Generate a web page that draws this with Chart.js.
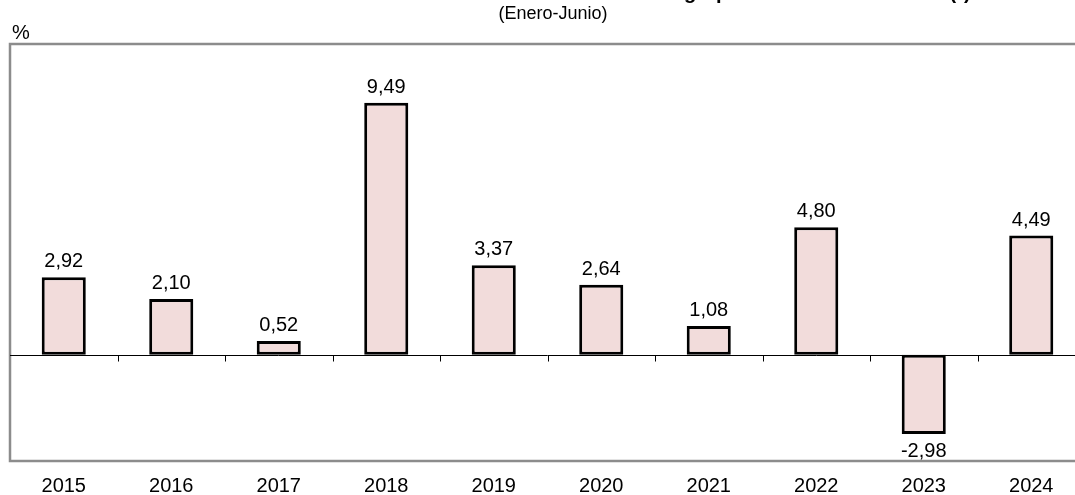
<!DOCTYPE html>
<html>
<head>
<meta charset="utf-8">
<script src="https://cdn.jsdelivr.net/npm/chart.js@4"></script>
<style>
  html, body { margin: 0; padding: 0; background: #fff; overflow: hidden; }
  #wrap { width: 1100px; height: 495px; }
</style>
</head>
<body>
<div id="wrap"><canvas id="c" width="1100" height="495"></canvas></div>
<script>
const categories = ['2015','2016','2017','2018','2019','2020','2021','2022','2023','2024'];
const values = [2.92, 2.10, 0.52, 9.49, 3.37, 2.64, 1.08, 4.80, -2.98, 4.49];
const titleText = 'Tasa de crecimiento del sector agropecuario en el semestre (*)';
const subtitleText = '(Enero-Junio)';
const unitText = '%';

const FONT = '"Liberation Sans", Arial, sans-serif';
const fmt = v => v.toFixed(2).replace('.', ',');

const decor = {
  id: 'decor',
  beforeDatasetsDraw(chart) {
    const { ctx, chartArea: a, scales: { x, y } } = chart;
    ctx.save();
    ctx.strokeStyle = '#8c8c8c';
    ctx.lineWidth = 2.5;
    ctx.strokeRect(a.left, a.top, a.right - a.left, a.bottom - a.top);
    const y0 = Math.round(y.getPixelForValue(0)) + 0.5;
    ctx.strokeStyle = '#000';
    ctx.lineWidth = 1;
    ctx.beginPath();
    ctx.moveTo(a.left, y0);
    ctx.lineTo(a.right, y0);
    for (let i = 1; i < categories.length; i++) {
      const px = Math.round(x.getPixelForValue(i - 0.5)) + 0.5;
      ctx.moveTo(px, y0);
      ctx.lineTo(px, y0 + 6);
    }
    ctx.stroke();
    ctx.restore();
  },
  afterDatasetsDraw(chart) {
    const { ctx } = chart;
    const meta = chart.getDatasetMeta(0);
    ctx.save();
    ctx.fillStyle = '#000';
    ctx.font = '20px ' + FONT;
    ctx.textAlign = 'center';
    meta.data.forEach((bar, i) => {
      const v = values[i];
      if (v >= 0) {
        ctx.textBaseline = 'alphabetic';
        ctx.fillText(fmt(v), bar.x, bar.y - 10);
      } else {
        ctx.textBaseline = 'alphabetic';
        ctx.fillText(fmt(v), bar.x, bar.y + 23);
      }
    });
    // unit label
    ctx.textAlign = 'left';
    ctx.textBaseline = 'alphabetic';
    ctx.fillText(unitText, 12, 39);
    // subtitle
    ctx.font = '18px ' + FONT;
    ctx.textAlign = 'center';
    ctx.fillText(subtitleText, 553, 19);
    // title (mostly above the visible area)
    ctx.font = 'bold 20px ' + FONT;
    ctx.textAlign = 'left';
    const pre = ctx.measureText('Tasa de crecimiento del sector a').width;
    const gw = ctx.measureText('g').width;
    ctx.fillText(titleText, 690 - pre - gw / 2, -1);
    ctx.restore();
  }
};

new Chart(document.getElementById('c'), {
  type: 'bar',
  data: {
    labels: categories,
    datasets: [{
      data: values,
      backgroundColor: '#f2dcdb',
      borderColor: '#000',
      borderWidth: 3,
      borderSkipped: false,
      categoryPercentage: 1,
      barPercentage: 0.41
    }]
  },
  options: {
    responsive: false,
    animation: false,
    devicePixelRatio: 1,
    layout: { padding: { left: 10, right: 15, top: 44, bottom: 0 } },
    plugins: { legend: { display: false }, tooltip: { enabled: false }, title: { display: false } },
    scales: {
      x: {
        grid: { display: false, drawTicks: false },
        border: { display: false },
        ticks: { color: '#000', font: { family: FONT, size: 20 }, padding: 13, maxRotation: 0 },
        afterFit: s => { s.height = 34; }
      },
      y: {
        display: false,
        min: -4,
        max: 11.7
      }
    }
  },
  plugins: [decor]
});
</script>
</body>
</html>
